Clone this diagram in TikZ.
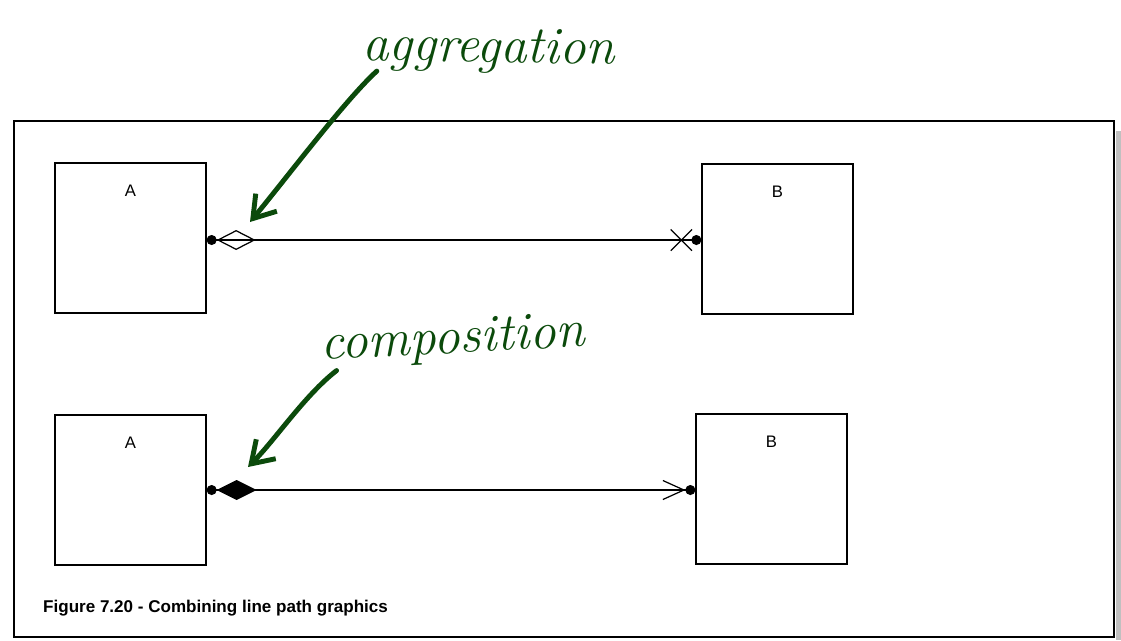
\documentclass[tikz,border=0pt]{standalone}
\usepackage{fontspec}
\setsansfont{Liberation Sans}
\usepackage{tikz}
\usetikzlibrary{arrows.meta,shapes.misc}
\definecolor{pengreen}{HTML}{0B4A0B}
\definecolor{shadowgray}{HTML}{C0C0C0}

\begin{document}
\begin{tikzpicture}[x=0.02cm,y=-0.02cm,
  classbox/.style={draw,line width=0.75pt,minimum width=3.02cm,minimum height=3cm,inner sep=0pt},
  classname/.style={font=\sffamily\fontsize{9.5}{11}\selectfont},
  assoc/.style={line width=0.7pt},
  pen/.style={pengreen,line width=2.8pt,line cap=round,line join=round},
  ink/.style={pengreen,font=\itshape\fontsize{30}{32}\selectfont,inner sep=0pt}]
 \useasboundingbox (0,0) rectangle (1121,640);
 % frame and its shadow
 \fill[shadowgray] (1116,131) rectangle (1121,640);
 \draw[line width=1.6pt] (14,121) rectangle (1114,637);
 % the four classes
 \foreach \n/\x/\y/\t in {A1/130.5/238/A,B1/777.5/239/B,A2/130.5/490/A,B2/771.5/489/B} {
   \node[classbox] (\n) at (\x,\y) {};
   \node[classname] (\n name) at ([yshift=-0.56cm]\n.north) {\t};}
 % aggregation
 \coordinate (a1end) at (A1.east |- 0,240);
 \coordinate (b1end) at (B1.west |- 0,240);
 \draw[assoc,{Circle[length=0.2cm]Diamond[open,length=0.78cm,width=0.4cm]}-{Circle[length=0.2cm]}]
  (a1end) -- (b1end);
 \node[draw,cross out,line width=0.7pt,minimum size=0.4cm,inner sep=0pt]
  (X1) at ([xshift=-0.4cm]b1end) {};
 % composition
 \coordinate (a2end) at (A2.east |- 0,490);
 \coordinate (b2end) at (B2.west |- 0,490);
 \draw[assoc,{Circle[length=0.2cm]Diamond[length=0.8cm,width=0.4cm]}-{Straight Barb[length=0.42cm,width=0.38cm]Circle[length=0.2cm]}]
  (a2end) -- (b2end);
 % handwritten notes
 \node[ink,anchor=base west,rotate=-1] (agg) at (362,60) {aggregation};
 \node[ink,anchor=base west,rotate=3] (comp) at (321,360) {composition};
 \coordinate (aggtip) at (250,222);
 \coordinate (comptip) at (248,467);
 \draw[pen,-{Straight Barb[length=0.42cm,width=0.55cm]}]
  ([xshift=0.3cm]agg.south west) .. controls (345,100) and (285,180) .. (aggtip);
 \draw[pen,-{Straight Barb[length=0.42cm,width=0.55cm]}]
  ([xshift=0.3cm]comp.south west) .. controls (305,395) and (275,440) .. (comptip);
 \node[font=\sffamily\bfseries\fontsize{9.7}{11}\selectfont,anchor=base west]
  (caption) at (37,612) {Figure 7.20 - Combining line path graphics};
\end{tikzpicture}
\end{document}
